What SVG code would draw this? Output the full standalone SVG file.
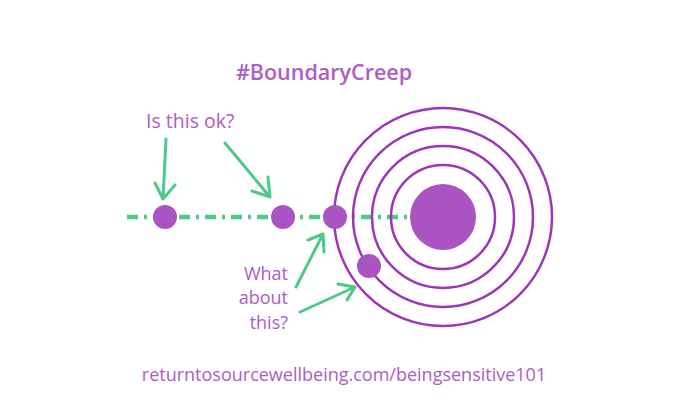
<svg xmlns="http://www.w3.org/2000/svg" width="690" height="415" viewBox="0 0 690 415">
<style>
.t{font-family:"Open Sans","Liberation Sans",sans-serif;fill:#ae5cc6}
.ring{fill:none;stroke:#9d35b8;stroke-width:2.5}
.dot{fill:#aa53c2}
.arr{fill:none;stroke:#4fc98a;stroke-width:3;stroke-linecap:round;stroke-linejoin:round}
</style>
<rect width="690" height="415" fill="#ffffff"/>
<g id="connectors">
<line x1="127" y1="217" x2="412" y2="217" stroke="#4fc98a" stroke-width="4.5" stroke-dasharray="11 6 3 6"/>
<path class="arr" d="M166 139 L163 199 M155 183 L163 199 L175 185"/>
<path class="arr" d="M225 143 L270 197 M252 191 L270 197 L268 177"/>
<path class="arr" d="M296 287 L323 234 M308 240 L323 234 L324 252"/>
<path class="arr" d="M300 312 L355 287 M338 284 L355 287 L347 300"/>
</g>
<g id="target">
<circle class="ring" cx="443" cy="217" r="52"/>
<circle class="ring" cx="443" cy="217" r="71"/>
<circle class="ring" cx="443" cy="217" r="90"/>
<circle class="ring" cx="443" cy="217" r="109"/>
<circle class="dot" cx="443" cy="217" r="33"/>
</g>
<g id="dot1"><circle class="dot" cx="165" cy="217" r="12"/></g>
<g id="dot2"><circle class="dot" cx="283" cy="217" r="12"/></g>
<g id="dot3"><circle class="dot" cx="335" cy="217" r="12"/></g>
<g id="dot4"><circle class="dot" cx="369" cy="266" r="12"/></g>
<g id="title"><text class="t" x="324" y="80" font-size="21.5" font-weight="600" text-anchor="middle">#BoundaryCreep</text></g>
<g id="label1"><text class="t" x="146" y="128" font-size="19.5">Is this ok?</text></g>
<g id="label2"><text class="t" font-size="18" text-anchor="end"><tspan x="288" y="279.5">What</tspan><tspan x="288" y="304">about</tspan><tspan x="288" y="328.5">this?</tspan></text></g>
<g id="url"><text class="t" x="344" y="381" font-size="18" text-anchor="middle">returntosourcewellbeing.com/beingsensitive101</text></g>
</svg>
